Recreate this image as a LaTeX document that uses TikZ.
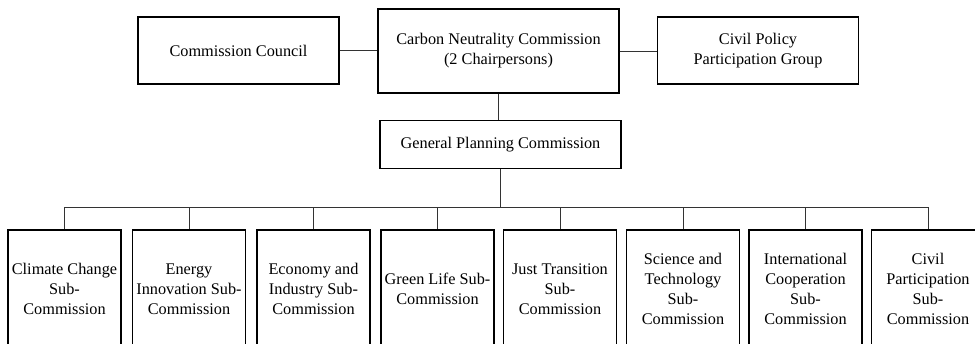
\documentclass[tikz,border=0pt]{standalone}
\usepackage{fontspec}
\setmainfont{Liberation Serif}
\usepackage{tikz}

\begin{document}
\begin{tikzpicture}[x=0.75pt,y=-0.75pt,
  box/.style={draw,line width=1.1pt,align=center,inner sep=2pt,
    font=\fontsize{12.2}{15}\selectfont},
  topbox/.style={box,minimum width=150.75pt,minimum height=50.25pt},
  subbox/.style={box,minimum width=84.75pt,minimum height=88.5pt},
  link/.style={draw,line width=0.6pt,black!80}]
\useasboundingbox (0,0) rectangle (975,343);
\clip (0,0) rectangle (975,343);
\node[topbox] (CC) at (238.5,50.5) {Commission Council};
\node[box,minimum width=180.75pt,minimum height=63pt] (CN) at (498.5,51) {Carbon Neutrality Commission\\(2 Chairpersons)};
\node[topbox] (CP) at (758,50.5) {Civil Policy\\Participation Group};
\node[box,minimum width=180.75pt,minimum height=36pt] (GP) at (500.5,144.5) {General Planning Commission};
\node[subbox] (S1) at (64.5,289) {Climate Change\\Sub-\\Commission};
\node[subbox] (S2) at (189,289) {Energy\\Innovation Sub-\\Commission};
\node[subbox] (S3) at (313.5,289) {Economy and\\Industry Sub-\\Commission};
\node[subbox] (S4) at (437.5,289) {Green Life Sub-\\Commission};
\node[subbox] (S5) at (560,289) {Just Transition\\Sub-\\Commission};
\node[subbox] (S6) at (683,289) {Science and\\Technology\\Sub-\\Commission};
\node[subbox] (S7) at (805.5,289) {International\\Cooperation\\Sub-\\Commission};
\node[subbox] (S8) at (928,289) {Civil\\Participation\\Sub-\\Commission};
\coordinate (bus) at (0,207.7);
\path[link]
(CC.east) -- (CC.east -| CN.west)
(CN.east) -- (CN.east -| CP.west)
(CN.south) -- (CN.south |- GP.north)
(GP.south) -- (GP.south |- bus)
(S1.north) |- (bus -| S8.north) -- (S8.north)
(S2.north) -- (S2.north |- bus)
(S3.north) -- (S3.north |- bus)
(S4.north) -- (S4.north |- bus)
(S5.north) -- (S5.north |- bus)
(S6.north) -- (S6.north |- bus)
(S7.north) -- (S7.north |- bus);
\end{tikzpicture}
\end{document}
